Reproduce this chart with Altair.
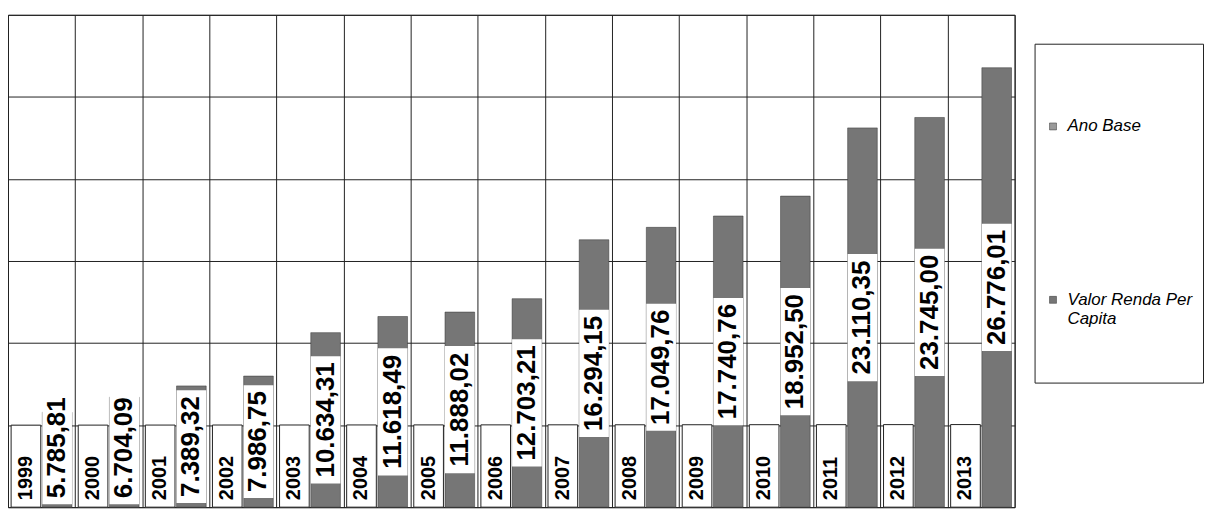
import altair as alt
import pandas as pd

# ---- data ----
years = ["1999", "2000", "2001", "2002", "2003", "2004", "2005", "2006",
         "2007", "2008", "2009", "2010", "2011", "2012", "2013"]
ano_base = [1999, 2000, 2001, 2002, 2003, 2004, 2005, 2006,
            2007, 2008, 2009, 2010, 2011, 2012, 2013]
renda_per_capita = [5785.81, 6704.09, 7389.32, 7986.75, 10634.31, 11618.49,
                    11888.02, 12703.21, 16294.15, 17049.76, 17740.76,
                    18952.50, 23110.35, 23745.00, 26776.01]
series_names = ["Ano Base", "Valor Renda Per Capita"]
y_ticks = [0, 5000, 10000, 15000, 20000, 25000, 30000]


def br(v):
    s = f"{v:,.2f}"
    return s.replace(",", "#").replace(".", ",").replace("#", ".")


renda_df = pd.DataFrame({
    "ano": years,
    "serie": series_names[1],
    "valor": renda_per_capita,
    "rotulo": [br(v) for v in renda_per_capita],
})
base_df = pd.DataFrame({
    "ano": years,
    "serie": series_names[0],
    "valor": ano_base,
    "rotulo": [str(v) for v in ano_base],
})

# ---- style ----
W, H = 1010, 494
Y_MAX = 30000
BASE_MAX = 12000
FONT = "Liberation Sans"
LABEL_FS = 26
YEAR_FS = 20
GRID = "#222222"
BAR_GREY = "#767676"
units_per_px = Y_MAX / H

x_enc = alt.X(
    "ano:N", sort=years,
    scale=alt.Scale(paddingInner=0, paddingOuter=0),
    axis=alt.Axis(labels=False, ticks=False, domain=False, title=None,
                  grid=True, tickBand="extent", gridColor=GRID, gridWidth=1),
)
xoff_enc = alt.XOffset(
    "serie:N", sort=series_names,
    scale=alt.Scale(domain=series_names, paddingInner=0.05, paddingOuter=0.1),
)
y_scale = alt.Scale(domain=[0, Y_MAX], nice=False, zero=True)
base_scale = alt.Scale(domain=[0, BASE_MAX], nice=False, zero=True)
y_axis = alt.Axis(values=y_ticks, labels=False, ticks=False, domain=False,
                  title=None, grid=True, gridColor=GRID, gridWidth=1)

legend = alt.Legend(
    orient="none", legendX=1030, legendY=29, title=None,
    strokeColor=GRID, padding=10,
    symbolType="square", symbolSize=49, symbolStrokeColor="#333333",
    symbolStrokeWidth=0.5,
    labelFont=FONT, labelFontStyle="italic", labelFontSize=17,
    labelColor="black", labelLimit=220, labelOffset=6,
    clipHeight=146, rowPadding=28,
    labelExpr="datum.label == 'Valor Renda Per Capita' ? ['Valor Renda Per', 'Capita'] : datum.label",
)

bars = alt.Chart(renda_df).mark_bar(stroke="#333333", strokeWidth=0.5).encode(
    x=x_enc, xOffset=xoff_enc,
    y=alt.Y("valor:Q", scale=y_scale, axis=y_axis),
    color=alt.Color("serie:N",
                    scale=alt.Scale(domain=series_names,
                                    range=["#9a9a9a", BAR_GREY]),
                    legend=legend),
)

half_expr = f"(({LABEL_FS}*(0.556*(length(datum.rotulo)-2)+0.556)+12)/2)*{units_per_px}"
label_base = alt.Chart(renda_df).transform_calculate(
    half=half_expr
).transform_calculate(
    centro=f"max(datum.valor/2, datum.half + {3*units_per_px})"
).transform_calculate(
    lo="datum.centro - datum.half", hi="datum.centro + datum.half"
)

boxes = label_base.mark_bar(color="white").encode(
    x=x_enc, xOffset=xoff_enc,
    y=alt.Y("lo:Q", scale=y_scale, axis=y_axis), y2="hi:Q",
)
texts = label_base.mark_text(
    angle=270, align="center", baseline="middle", font=FONT,
    fontSize=LABEL_FS, fontWeight="bold", color="black",
).encode(
    x=x_enc, xOffset=xoff_enc,
    y=alt.Y("centro:Q", scale=y_scale, axis=y_axis),
    text="rotulo:N",
)

base_bars = alt.Chart(base_df).mark_bar(
    fill="white", stroke=GRID, strokeWidth=1
).encode(
    x=x_enc, xOffset=xoff_enc,
    y=alt.Y("valor:Q", scale=base_scale, axis=None),
)
base_texts = alt.Chart(base_df).transform_calculate(zero="0").mark_text(
    angle=270, align="left", baseline="middle", dx=7, font=FONT,
    fontSize=YEAR_FS, fontWeight="bold", color="black",
).encode(
    x=x_enc, xOffset=xoff_enc,
    y=alt.Y("zero:Q", scale=base_scale, axis=None),
    text="rotulo:N",
)

renda_layer = alt.layer(bars, boxes, texts)
base_layer = alt.layer(base_bars, base_texts)

chart = alt.layer(renda_layer, base_layer).resolve_scale(
    y="independent"
).properties(
    width=W, height=H,
    padding={"left": 0, "top": 6, "right": 0, "bottom": 0},
    background="white",
).configure_view(stroke=GRID, strokeWidth=1)

chart.save("out.html", embed_options={"renderer": "svg", "actions": False})
